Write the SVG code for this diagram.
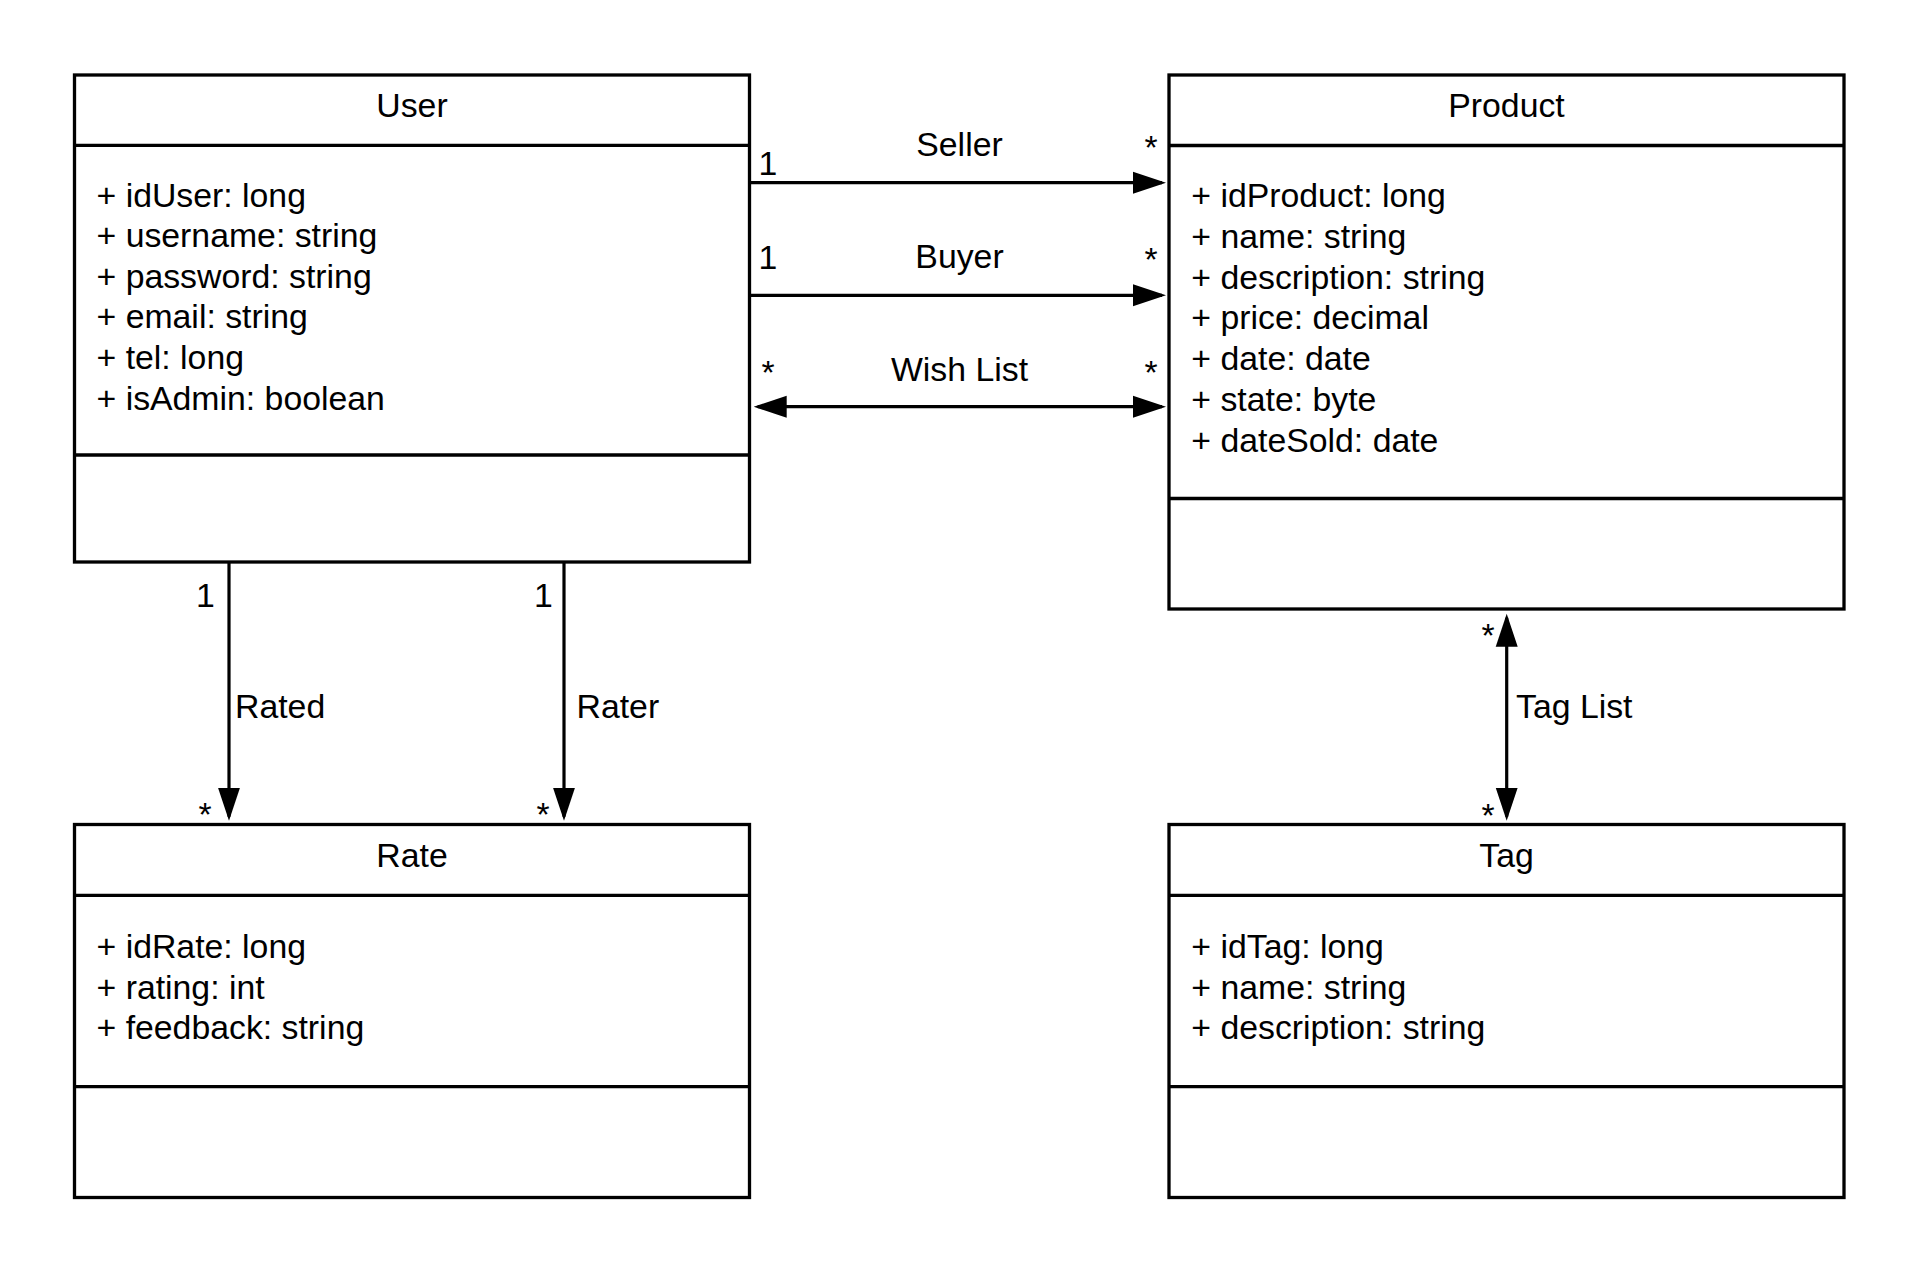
<svg xmlns="http://www.w3.org/2000/svg" width="1920" height="1273" viewBox="0 0 1920 1273">
<style>
  text { font-family: "Liberation Sans", Arial, sans-serif; font-size: 33.8px; fill: #000; }
  .title { text-anchor: middle; }
  .mid { text-anchor: middle; }
  .box { fill: #fff; stroke: #000; stroke-width: 3.3; }
  .sep { stroke: #000; stroke-width: 3.3; }
  .conn { stroke: #000; stroke-width: 3.2; fill: none; }
</style>
<defs>
  <marker id="arrow" markerUnits="userSpaceOnUse" markerWidth="34" markerHeight="24" viewBox="0 0 34 24" refX="29" refY="12" orient="auto-start-reverse">
    <path d="M0,1 L33,12 L0,23 Z" fill="#000"/>
  </marker>
</defs>
<rect width="1920" height="1273" fill="#fff"/>

<g id="connectors">
  <line class="conn" x1="751" y1="182.7" x2="1162" y2="182.7" marker-end="url(#arrow)"/>
  <line class="conn" x1="751" y1="295.3" x2="1162" y2="295.3" marker-end="url(#arrow)"/>
  <line class="conn" x1="757.7" y1="406.7" x2="1162" y2="406.7" marker-start="url(#arrow)" marker-end="url(#arrow)"/>
  <line class="conn" x1="229" y1="563" x2="229" y2="816.7" marker-end="url(#arrow)"/>
  <line class="conn" x1="564" y1="563" x2="564" y2="816.7" marker-end="url(#arrow)"/>
  <line class="conn" x1="1506.7" y1="617.7" x2="1506.7" y2="816.7" marker-start="url(#arrow)" marker-end="url(#arrow)"/>

  <text class="mid" x="959.5" y="156">Seller</text>
  <text class="mid" x="959.5" y="268.3">Buyer</text>
  <text class="mid" x="959.5" y="381">Wish List</text>
  <text x="235" y="718.3">Rated</text>
  <text x="576.5" y="718.3">Rater</text>
  <text x="1516" y="718.3">Tag List</text>

  <text class="mid" x="768" y="175">1</text>
  <text class="mid" x="1151" y="158.8">*</text>
  <text class="mid" x="768" y="269.3">1</text>
  <text class="mid" x="1151" y="270.5">*</text>
  <text class="mid" x="768" y="383.8">*</text>
  <text class="mid" x="1151" y="383.8">*</text>
  <text class="mid" x="205.5" y="606.7">1</text>
  <text class="mid" x="205" y="825.5">*</text>
  <text class="mid" x="543.5" y="606.7">1</text>
  <text class="mid" x="543" y="825.5">*</text>
  <text class="mid" x="1488" y="647">*</text>
  <text class="mid" x="1488" y="827">*</text>
</g>

<g id="User">
  <rect class="box" x="74.5" y="75" width="675" height="487"/>
  <line class="sep" x1="74.5" y1="145.3" x2="749.5" y2="145.3"/>
  <line class="sep" x1="74.5" y1="455" x2="749.5" y2="455"/>
  <text class="title" x="412" y="117.3">User</text>
  <text x="96.5" y="206.5">
    <tspan x="96.5" y="206.5">+ idUser: long</tspan>
    <tspan x="96.5" y="247.1">+ username: string</tspan>
    <tspan x="96.5" y="287.7">+ password: string</tspan>
    <tspan x="96.5" y="328.3">+ email: string</tspan>
    <tspan x="96.5" y="368.9">+ tel: long</tspan>
    <tspan x="96.5" y="409.5">+ isAdmin: boolean</tspan>
  </text>
</g>

<g id="Product">
  <rect class="box" x="1169" y="75" width="675" height="534"/>
  <line class="sep" x1="1169" y1="145.5" x2="1844" y2="145.5"/>
  <line class="sep" x1="1169" y1="498.5" x2="1844" y2="498.5"/>
  <text class="title" x="1506.5" y="117.3">Product</text>
  <text x="1191.3" y="207.3">
    <tspan x="1191.3" y="207.3">+ idProduct: long</tspan>
    <tspan x="1191.3" y="248">+ name: string</tspan>
    <tspan x="1191.3" y="288.7">+ description: string</tspan>
    <tspan x="1191.3" y="329.4">+ price: decimal</tspan>
    <tspan x="1191.3" y="370.1">+ date: date</tspan>
    <tspan x="1191.3" y="410.8">+ state: byte</tspan>
    <tspan x="1191.3" y="451.5">+ dateSold: date</tspan>
  </text>
</g>

<g id="Rate">
  <rect class="box" x="74.5" y="824.5" width="675" height="373"/>
  <line class="sep" x1="74.5" y1="895.3" x2="749.5" y2="895.3"/>
  <line class="sep" x1="74.5" y1="1086.7" x2="749.5" y2="1086.7"/>
  <text class="title" x="412" y="867.3">Rate</text>
  <text x="96.5" y="958">
    <tspan x="96.5" y="958">+ idRate: long</tspan>
    <tspan x="96.5" y="998.6">+ rating: int</tspan>
    <tspan x="96.5" y="1039.2">+ feedback: string</tspan>
  </text>
</g>

<g id="Tag">
  <rect class="box" x="1169" y="824.5" width="675" height="373"/>
  <line class="sep" x1="1169" y1="895.3" x2="1844" y2="895.3"/>
  <line class="sep" x1="1169" y1="1086.7" x2="1844" y2="1086.7"/>
  <text class="title" x="1506.5" y="867.3">Tag</text>
  <text x="1191.3" y="958">
    <tspan x="1191.3" y="958">+ idTag: long</tspan>
    <tspan x="1191.3" y="998.6">+ name: string</tspan>
    <tspan x="1191.3" y="1039.2">+ description: string</tspan>
  </text>
</g>
</svg>
